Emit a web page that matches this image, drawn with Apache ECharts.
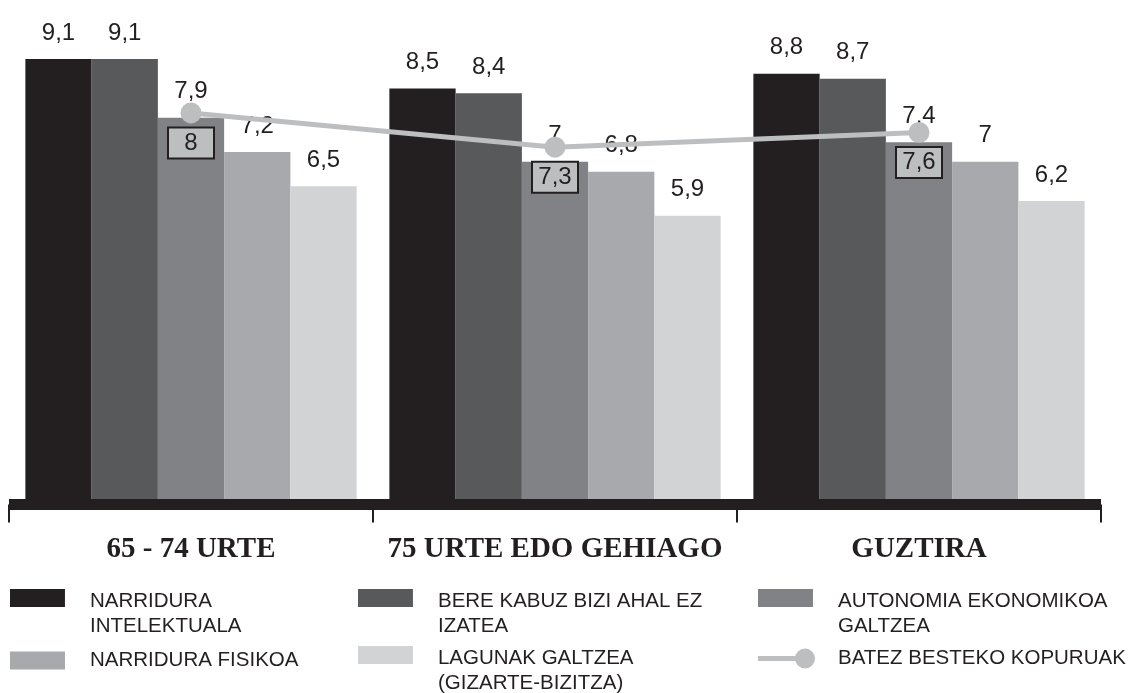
<!DOCTYPE html>
<html>
<head>
<meta charset="utf-8">
<script src="https://cdn.jsdelivr.net/npm/echarts@6/dist/echarts.min.js"></script>
<style>
  html, body { margin: 0; padding: 0; background: #ffffff; }
  #chart { width: 1136px; height: 693px; }
</style>
</head>
<body>
<div id="chart"></div>
<script>
// kategoriak (X ardatza)
const categories = ['65 - 74 URTE', '75 URTE EDO GEHIAGO', 'GUZTIRA'];

// serieen izenak
const seriesNames = [
  'NARRIDURA INTELEKTUALA',
  'BERE KABUZ BIZI AHAL EZ IZATEA',
  'AUTONOMIA EKONOMIKOA GALTZEA',
  'NARRIDURA FISIKOA',
  'LAGUNAK GALTZEA (GIZARTE-BIZITZA)'
];
const lineName = 'BATEZ BESTEKO KOPURUAK';

// balioak
const narriduraIntelektuala = [9.1, 8.5, 8.8];
const bereKabuz = [9.1, 8.4, 8.7];
const autonomiaEkonomikoa = [7.9, 7.0, 7.4];
const narriduraFisikoa = [7.2, 6.8, 7.0];
const lagunakGaltzea = [6.5, 5.9, 6.2];
const batezBesteko = [8.0, 7.3, 7.6];

// legendako testuak (lerro-jauziekin)
const legendText = {
  'NARRIDURA INTELEKTUALA': 'NARRIDURA\nINTELEKTUALA',
  'BERE KABUZ BIZI AHAL EZ IZATEA': 'BERE KABUZ BIZI AHAL EZ\nIZATEA',
  'AUTONOMIA EKONOMIKOA GALTZEA': 'AUTONOMIA EKONOMIKOA\nGALTZEA',
  'NARRIDURA FISIKOA': 'NARRIDURA FISIKOA',
  'LAGUNAK GALTZEA (GIZARTE-BIZITZA)': 'LAGUNAK GALTZEA\n(GIZARTE-BIZITZA)',
  'BATEZ BESTEKO KOPURUAK': 'BATEZ BESTEKO KOPURUAK'
};

const barValues = [narriduraIntelektuala, bereKabuz, autonomiaEkonomikoa, narriduraFisikoa, lagunakGaltzea];
const barColors = ['#231f20', '#58595b', '#808285', '#a7a9ac', '#d1d3d4'];
const lineColor = '#bcbec0';
const textColor = '#231f20';
const sansFont = 'Liberation Sans';

const fmt = v => String(v).replace('.', ',');

// ikonoak: laukizuzena goian (bi lerroko testuentzat), lerroa + borobila
const tallRectIcon = 'path://M0,0h55v18h-55z M0,50h0.05v0.05h-0.05z';
const lineIcon = 'path://M0,7.5h47v5h-47z M37,10a10,10 0 1,1 20,0a10,10 0 1,1 -20,0z';

const chart = echarts.init(document.getElementById('chart'));

const barSeries = barValues.map((vals, i) => ({
  name: seriesNames[i],
  type: 'bar',
  data: vals,
  barGap: '0%',
  barCategoryGap: '9%',
  itemStyle: { color: barColors[i] },
  label: {
    show: true,
    position: 'top',
    distance: 14,
    color: textColor,
    fontFamily: sansFont,
    fontSize: 24,
    formatter: p => fmt(p.value)
  }
}));

function legendItem(name, left, top, tall) {
  return {
    data: [name],
    left: left,
    top: top,
    orient: 'horizontal',
    padding: 0,
    itemWidth: 55,
    itemHeight: tall ? 50 : 18,
    icon: tall ? tallRectIcon : 'rect',
    selectedMode: false,
    formatter: n => legendText[n],
    textStyle: {
      color: textColor,
      fontFamily: sansFont,
      fontSize: 20.5,
      lineHeight: 25,
      padding: [0, 0, 0, 20]
    }
  };
}

const lineLegend = legendItem(lineName, 758, 646, false);
lineLegend.itemWidth = 57;
lineLegend.itemHeight = 20;
lineLegend.icon = lineIcon;
lineLegend.itemStyle = { borderWidth: 0 };
lineLegend.textStyle.padding = [0, 0, 0, 18];

const option = {
  animation: false,
  backgroundColor: '#ffffff',
  grid: { left: 9, right: 35, top: 15, bottom: 188.5 },
  xAxis: {
    type: 'category',
    data: categories,
    z: 3,
    axisLine: { lineStyle: { color: textColor, width: 11, cap: 'butt' } },
    axisTick: { show: true, interval: 0, length: 18, lineStyle: { color: textColor, width: 2 } },
    axisLabel: {
      interval: 0,
      margin: 31,
      color: textColor,
      fontFamily: 'Liberation Serif',
      fontWeight: 'bold',
      fontSize: 29
    }
  },
  yAxis: {
    type: 'value',
    min: 0,
    max: 10,
    show: false
  },
  legend: [
    legendItem(seriesNames[0], 10, 589, true),
    legendItem(seriesNames[1], 358, 589, true),
    legendItem(seriesNames[2], 758, 589, true),
    legendItem(seriesNames[3], 10, 648, false),
    legendItem(seriesNames[4], 358, 646, true),
    lineLegend
  ],
  series: barSeries.concat([{
    name: lineName,
    type: 'line',
    data: batezBesteko,
    z: 5,
    symbol: 'circle',
    symbolSize: 21,
    lineStyle: { color: lineColor, width: 5 },
    itemStyle: { color: lineColor, borderWidth: 0 },
    label: {
      show: true,
      position: 'bottom',
      distance: 5,
      color: textColor,
      fontFamily: sansFont,
      fontSize: 24,
      backgroundColor: lineColor,
      borderColor: textColor,
      borderWidth: 2,
      width: 44,
      height: 29,
      lineHeight: 29,
      align: 'center',
      formatter: p => fmt(p.value)
    }
  }])
};

chart.setOption(option);
</script>
</body>
</html>
